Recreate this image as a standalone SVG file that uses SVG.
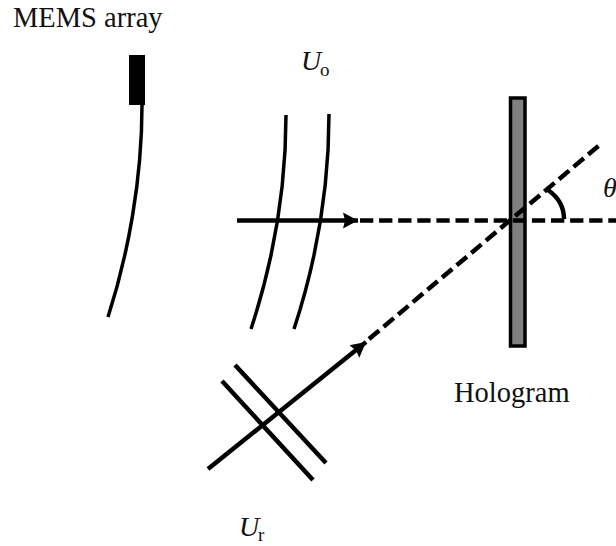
<svg xmlns="http://www.w3.org/2000/svg" width="616" height="546" viewBox="0 0 616 546">
<style>
text{font-family:"Liberation Serif","Times New Roman",serif;fill:#111}
.lbl{font-size:28.5px}
.it{font-size:28px;font-style:italic}
.sub{font-size:19px}
.l{fill:none;stroke:#000;stroke-width:3.5}
.w{fill:none;stroke:#000;stroke-width:4.5}
.b{fill:none;stroke:#000;stroke-width:4.5}
.d{fill:none;stroke:#000;stroke-width:4.5;stroke-dasharray:13.3 5.8}
</style>
<defs>
<marker id="ah" markerUnits="userSpaceOnUse" markerWidth="18" markerHeight="18" refX="15" refY="9" orient="auto"><path d="M0 1L15 9L0 17L2 9Z" fill="#000"/></marker>
</defs>
<rect width="616" height="546" fill="#fff"/>
<g id="mems">
<rect x="129" y="55" width="16" height="50" fill="#000"/>
<path class="l" d="M142 105C142 180 128 255 108 317"/>
<text class="lbl" x="13" y="27">MEMS array</text>
</g>
<g id="wavefronts-o">
<path class="l" d="M286 115C286 190 272 265 251 329"/>
<path class="l" d="M329 114C329 190 315 265 294 329"/>
<text class="it" x="301" y="70">U</text>
<text class="sub" x="320" y="76">o</text>
</g>
<g id="hologram">
<rect x="510.5" y="98" width="14.5" height="248" fill="#808080" stroke="#000" stroke-width="3.5"/>
<text class="lbl" x="454" y="401.5">Hologram</text>
</g>
<g id="wavefronts-r">
<path class="w" d="M235 365L326 463"/>
<path class="w" d="M222 381L313 480"/>
<text class="it" x="239" y="536">U</text>
<text class="sub" x="258" y="541">r</text>
</g>
<g id="connectors">
<path class="b" d="M237 220.5H358" marker-end="url(#ah)"/>
<path class="d" d="M360 220.5H616"/>
<path class="b" d="M208 469L366 342" marker-end="url(#ah)"/>
<path class="d" d="M369 339L602 143"/>
<path class="b" d="M548 190C558 197 564 207 564 219"/>
</g>
<g id="angle"><text class="it" x="603" y="197">θ</text></g>
</svg>
